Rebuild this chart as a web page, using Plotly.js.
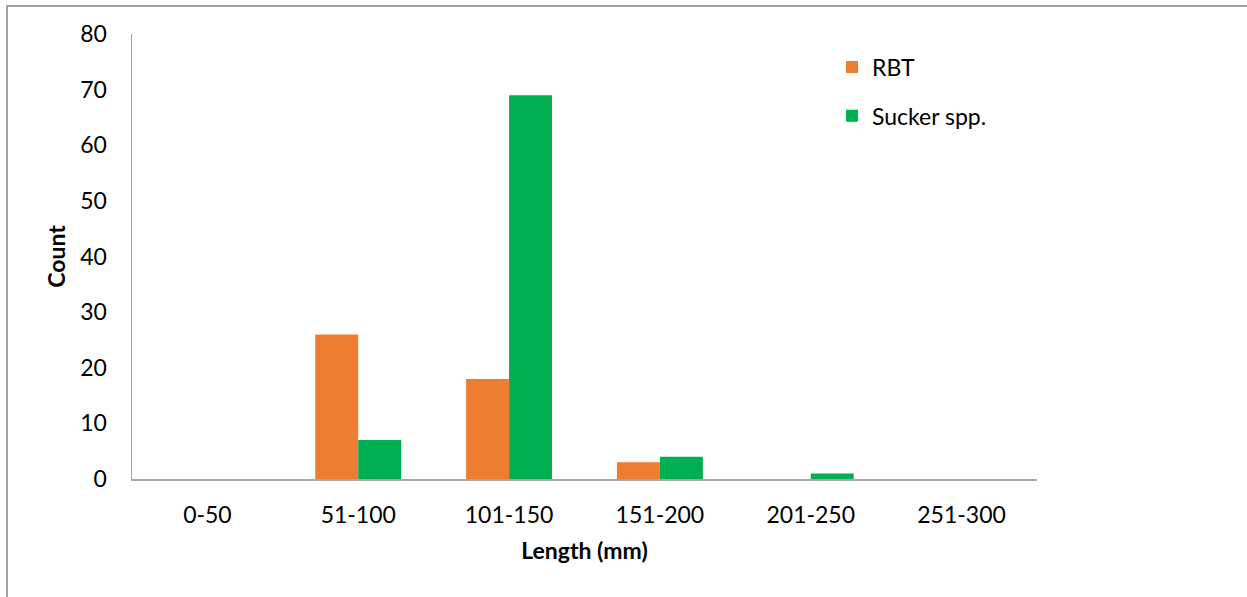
<!DOCTYPE html>
<html>
<head>
<meta charset="utf-8">
<script src="https://cdn.plot.ly/plotly-3.0.1.min.js"></script>
<style>
  html, body { margin: 0; padding: 0; background: #fff; overflow: hidden; }
  #chart { position: absolute; left: 0; top: 0; width: 1247px; height: 597px; }
  #frame { position: absolute; left: 6px; top: 5px; width: 1400px; height: 800px;
           border-left: 2px solid #a0a0a0; border-top: 2px solid #a0a0a0; pointer-events: none; }
</style>
</head>
<body>
<div id="chart"></div>
<div id="frame"></div>
<script>
const categories = ["0-50", "51-100", "101-150", "151-200", "201-250", "251-300"];
const rbtCounts = [0, 26, 18, 3, 0, 0];
const suckerCounts = [0, 7, 69, 4, 1, 0];
const yTicks = [0, 10, 20, 30, 40, 50, 60, 70, 80];

const FONT = "Lato, 'Open Sans', sans-serif";

const traces = [
  { type: "bar", name: "RBT", x: categories, y: rbtCounts,
    marker: { color: "#ED7D31" }, legend: "legend" },
  { type: "bar", name: "Sucker spp.", x: categories, y: suckerCounts,
    marker: { color: "#00B050" }, legend: "legend2" }
];

const layout = {
  width: 1247, height: 597,
  paper_bgcolor: "#ffffff", plot_bgcolor: "#ffffff",
  margin: { l: 132, r: 210, t: 34, b: 118 },
  barmode: "group", bargap: 0.43, bargroupgap: 0,
  font: { family: FONT, size: 23, color: "#000" },
  xaxis: {
    type: "category",
    showline: true, linecolor: "#a6a6a6", linewidth: 1.5,
    ticks: "", ticklabelstandoff: 15,
    tickfont: { family: FONT, size: 23, color: "#000" },
    title: { text: "<b>Length (mm)</b>", font: { family: FONT, size: 23, color: "#000" }, standoff: 16 },
    fixedrange: true
  },
  yaxis: {
    range: [0, 80], tickvals: yTicks, ticktext: yTicks.map(String),
    showgrid: false, zeroline: false,
    showline: true, linecolor: "#a6a6a6", linewidth: 1.5,
    ticks: "", ticklabelstandoff: 19,
    tickfont: { family: FONT, size: 23, color: "#000" },
    title: { text: "<b>Count</b>", font: { family: FONT, size: 23, color: "#000" }, standoff: 8 },
    fixedrange: true
  },
  legend: { x: 0.7735, y: 0.926, xanchor: "left", yanchor: "middle",
            font: { family: FONT, size: 23, color: "#000" }, bgcolor: "rgba(0,0,0,0)" },
  legend2: { x: 0.7735, y: 0.816, xanchor: "left", yanchor: "middle",
            font: { family: FONT, size: 23, color: "#000" }, bgcolor: "rgba(0,0,0,0)" },
  showlegend: true
};

Plotly.newPlot("chart", traces, layout, { displayModeBar: false, staticPlot: true });
</script>
</body>
</html>
